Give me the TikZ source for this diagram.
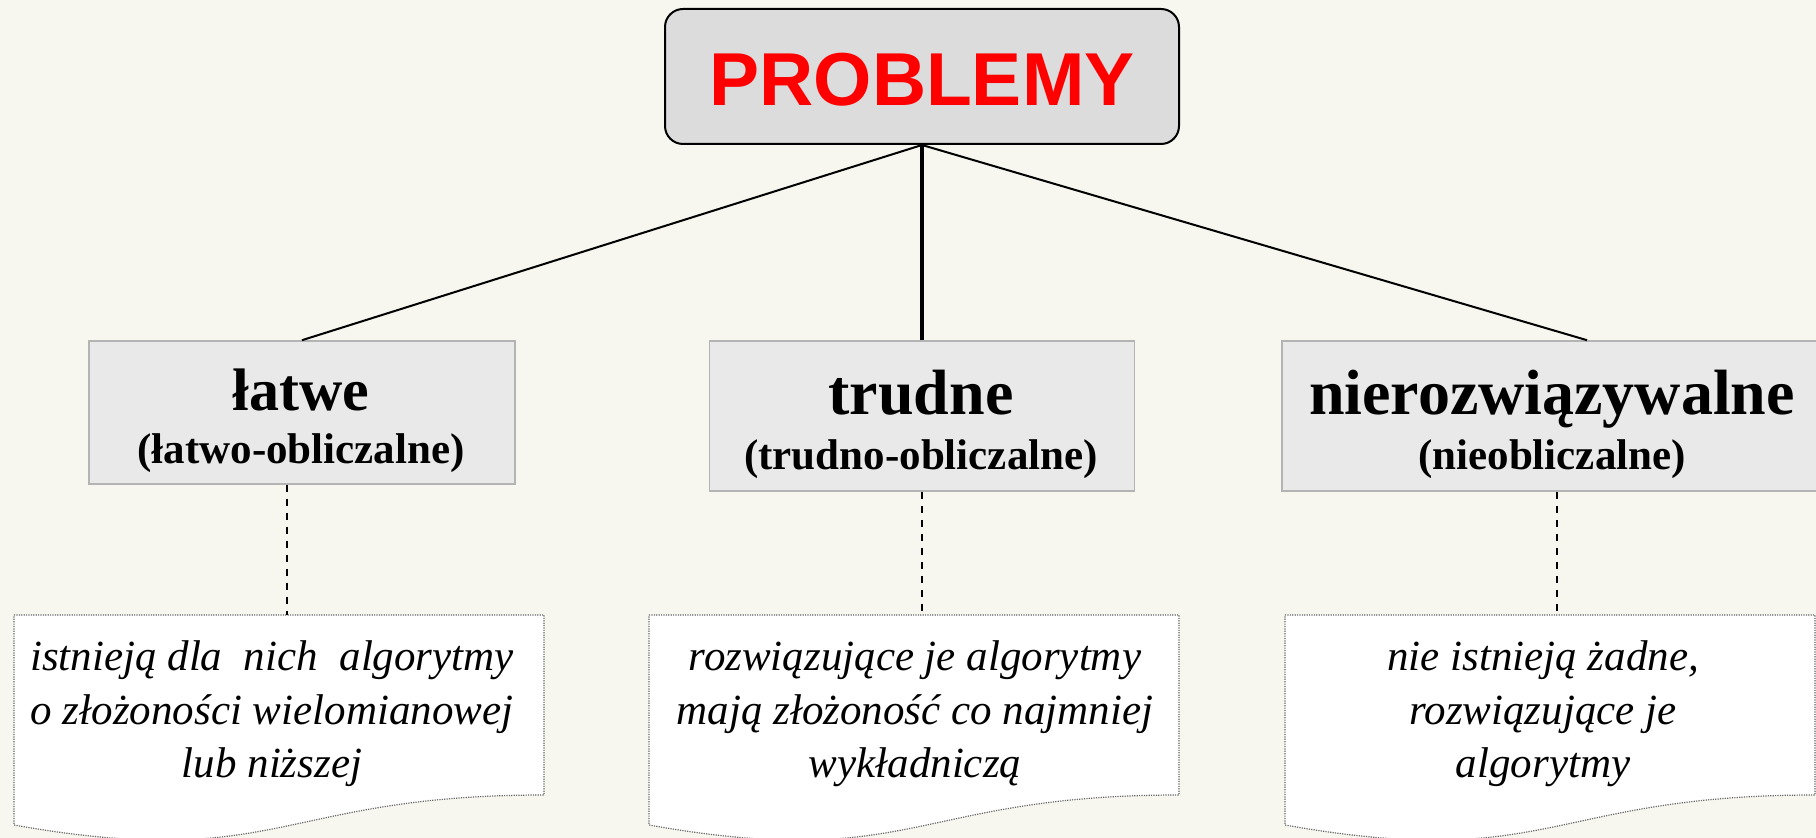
\documentclass[tikz,border=0pt]{standalone}
\usepackage{fontspec}
\setmainfont{Liberation Serif}
\newfontfamily\headfont{Liberation Sans}
\definecolor{bg}{RGB}{247,247,239}
\definecolor{topgray}{RGB}{220,220,220}
\definecolor{catgray}{RGB}{233,233,233}
\definecolor{catedge}{RGB}{180,180,180}
\definecolor{probred}{RGB}{255,0,0}
\tikzset{
  topbox/.style={draw=black, line width=1pt, fill=topgray, rounded corners=9pt, inner sep=0pt,
    minimum width=257pt, minimum height=67.5pt, text=probred, text height=29.3pt, text depth=0pt,
    font={\headfont\bfseries\fontsize{37.5pt}{40pt}\selectfont}},
  catbox/.style={draw=catedge, line width=0.8pt, fill=catgray, inner sep=0pt},
  cattext/.style={anchor=base, inner sep=0pt, font={\bfseries\fontsize{21.5pt}{#1}\selectfont}},
  notepath/.style={draw=black!60, line width=0.6pt, dash pattern=on 0.6pt off 0.6pt, fill=white},
  notetext/.style={anchor=base, inner sep=0pt, font={\itshape\fontsize{21.5pt}{26.75pt}\selectfont}},
  tree/.style={line width=1pt},
  treemain/.style={line width=2pt},
  link/.style={line width=1pt, dash pattern=on 3.5pt off 3.5pt},
}
\begin{document}
\begin{tikzpicture}[x=0.5pt,y=-0.5pt]
\useasboundingbox (0,0) rectangle (1816,838);
\fill[bg] (0,0) rectangle (1816,838);
\clip (0,0) rectangle (1816,838);

% top node
\node[topbox] (prob) at (922,76.5) {PROBLEMY};

% category boxes
\node[catbox, minimum width=213pt, minimum height=71.5pt] (latwe) at (302,412.5) {};
\node[catbox, minimum width=212.5pt, minimum height=75pt] (trudne) at (922,416) {};
\node[catbox, minimum width=271.5pt, minimum height=75pt] (nier) at (1553.5,416) {};

\node[cattext=26.5pt] (latwe-t) at (301,411) {\begin{tabular}[t]{@{}c@{}}{\fontsize{30pt}{30pt}\selectfont łatwe}\\(łatwo-obliczalne)\end{tabular}};
\node[cattext=27.5pt] (trudne-t) at (921,415) {\begin{tabular}[t]{@{}c@{}}{\fontsize{32pt}{32pt}\selectfont trudne}\\(trudno-obliczalne)\end{tabular}};
\node[cattext=27.5pt] (nier-t) at (1552,415) {\begin{tabular}[t]{@{}c@{}}{\fontsize{32pt}{32pt}\selectfont nierozwiązywalne}\\(nieobliczalne)\end{tabular}};

% tree connectors
\draw[tree] (prob.south) -- (latwe.north);
\draw[treemain] (prob.south) -- (trudne.north);
\draw[tree] (prob.south) -- ([xshift=16.75pt]nier.north);

% note shapes
\draw[notepath] (14,615) -- (544,615) -- (544,795) .. controls (279,795) and (279,872) .. (14,825) -- cycle;
\draw[notepath] (649,615) -- (1179,615) -- (1179,795) .. controls (914,795) and (914,872) .. (649,825) -- cycle;
\draw[notepath] (1285,615) -- (1815,615) -- (1815,795) .. controls (1550,795) and (1550,872) .. (1285,825) -- cycle;

\coordinate (n1top) at (287,615);
\coordinate (n2top) at (922,615);
\coordinate (n3top) at (1557,615);

\draw[link] ([xshift=-7.5pt]latwe.south) -- (n1top);
\draw[link] (trudne.south) -- (n2top);
\draw[link] ([xshift=1.75pt]nier.south) -- (n3top);

\node[notetext] (n1) at (272,671) {\begin{tabular}[t]{@{}c@{}}istnieją dla\ \ nich\ \ algorytmy\\o złożoności wielomianowej\\lub niższej\end{tabular}};
\node[notetext] (n2) at (915,671) {\begin{tabular}[t]{@{}c@{}}rozwiązujące je algorytmy\\mają złożoność co najmniej\\wykładniczą\end{tabular}};
\node[notetext] (n3) at (1543,671) {\begin{tabular}[t]{@{}c@{}}nie istnieją żadne,\\rozwiązujące je\\algorytmy\end{tabular}};
\end{tikzpicture}
\end{document}
